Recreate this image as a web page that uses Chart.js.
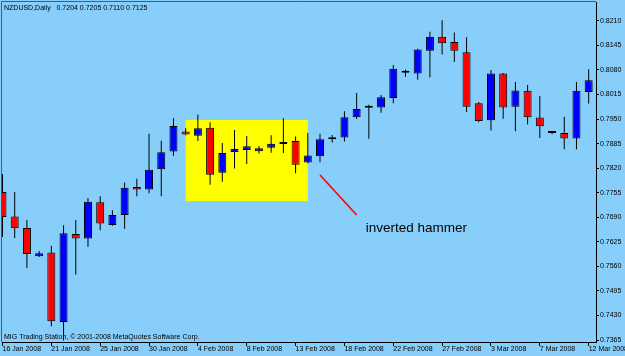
<!DOCTYPE html>
<html lang="en">
<head>
  <meta charset="UTF-8">
  <title>NZDUSD, Daily</title>
  <style>
    html, body {
      margin: 0;
      padding: 0;
      background: #87cefa;
    }

    #wrap {
      width: 625px;
      height: 356px;
      position: relative;
    }
  </style>
</head>
<body>
  <div id="wrap">
    <canvas id="chart"></canvas>
  </div>

  <script src="https://cdn.jsdelivr.net/npm/chart.js@4"></script>
  <script>
    // daily bars
    const opens = [0.7757, 0.7692, 0.7662, 0.7587, 0.7597, 0.7413, 0.7646, 0.7634, 0.7730, 0.7670,
      0.7696, 0.7770, 0.7764, 0.7817, 0.7864, 0.7917, 0.7906, 0.7927, 0.7808, 0.7863,
      0.7868, 0.7865, 0.7874, 0.7884, 0.7892, 0.7835, 0.7852, 0.7897, 0.7901, 0.7955,
      0.7980, 0.7981, 0.8006, 0.8073, 0.8071, 0.8131, 0.8168, 0.8154, 0.8127, 0.7992,
      0.7947, 0.8071, 0.7983, 0.8025, 0.7954, 0.7915, 0.7913, 0.7899, 0.8022];
    const highs = [0.7805, 0.7757, 0.7683, 0.7601, 0.7615, 0.7669, 0.7683, 0.7741, 0.7746, 0.7709,
      0.7782, 0.7792, 0.7911, 0.7893, 0.7952, 0.7926, 0.7962, 0.7942, 0.7887, 0.7921,
      0.7905, 0.7879, 0.7907, 0.7952, 0.7904, 0.7913, 0.7911, 0.7908, 0.7971, 0.8019,
      0.7988, 0.8014, 0.8093, 0.8081, 0.8136, 0.8181, 0.8212, 0.8179, 0.8167, 0.7995,
      0.8080, 0.8072, 0.8048, 0.8040, 0.8011, 0.7916, 0.7956, 0.8048, 0.8082];
    const lows = [0.7638, 0.7635, 0.7556, 0.7585, 0.7402, 0.7364, 0.7539, 0.7612, 0.7656, 0.7668,
      0.7660, 0.7746, 0.7754, 0.7746, 0.7853, 0.7907, 0.7892, 0.7776, 0.7784, 0.7819,
      0.7831, 0.7859, 0.7861, 0.7860, 0.7807, 0.7833, 0.7836, 0.7888, 0.7891, 0.7950,
      0.7898, 0.7967, 0.7992, 0.8062, 0.8054, 0.8060, 0.8121, 0.8101, 0.7969, 0.7942,
      0.7920, 0.7951, 0.7918, 0.7936, 0.7900, 0.7910, 0.7870, 0.7870, 0.7991];
    const closes = [0.7691, 0.7661, 0.7593, 0.7595, 0.7415, 0.7648, 0.7634, 0.7731, 0.7674, 0.7696,
      0.7768, 0.7764, 0.7816, 0.7862, 0.7932, 0.7909, 0.7926, 0.7803, 0.7860, 0.7871,
      0.7878, 0.7873, 0.7885, 0.7889, 0.7829, 0.7854, 0.7897, 0.7897, 0.7955, 0.7977,
      0.7980, 0.8008, 0.8083, 0.8073, 0.8134, 0.8168, 0.8151, 0.8131, 0.7983, 0.7945,
      0.8071, 0.7981, 0.8026, 0.7955, 0.7931, 0.7913, 0.7899, 0.8025, 0.8053];

    // one date label every 4 bars
    const dateLabels = ['16 Jan 2008', '21 Jan 2008', '25 Jan 2008', '30 Jan 2008', '4 Feb 2008',
      '8 Feb 2008', '13 Feb 2008', '18 Feb 2008', '22 Feb 2008', '27 Feb 2008',
      '3 Mar 2008', '7 Mar 2008', '12 Mar 2008'];
    const barsPerLabel = 4;
    const priceTicks = [0.7365, 0.7430, 0.7495, 0.7560, 0.7625, 0.7690, 0.7755,
      0.7820, 0.7885, 0.7950, 0.8015, 0.8080, 0.8145, 0.8210];

    // yellow zone + arrow + note (bar index, price)
    const zoneBars = [15, 25];
    const zonePrices = [0.7948, 0.7733];
    const arrowFrom = [26, 0.7802];
    const arrowTo = [29, 0.7696];
    const noteAt = [29.75, 0.7650];

    const smallFont = '7px "Liberation Sans", Arial, sans-serif';

    const idx = opens.map((_, i) => i);
    const isUp = idx.map(i => closes[i] >= opens[i]);

    const overlay = {
      id: 'overlay',
      beforeDatasetsDraw(chart) {
        const { ctx, scales: { x, y } } = chart;
        const l = x.getPixelForValue(zoneBars[0]);
        const r = x.getPixelForValue(zoneBars[1]);
        const t = y.getPixelForValue(zonePrices[0]);
        const b = y.getPixelForValue(zonePrices[1]);
        ctx.save();
        ctx.fillStyle = '#ffff00';
        ctx.fillRect(l, t, r - l, b - t);
        ctx.restore();
      },
      afterDatasetsDraw(chart) {
        const { ctx, scales: { x, y } } = chart;
        ctx.save();
        ctx.strokeStyle = '#ff0000';
        ctx.lineWidth = 1.6;
        ctx.beginPath();
        ctx.moveTo(x.getPixelForValue(arrowFrom[0]), y.getPixelForValue(arrowFrom[1]));
        ctx.lineTo(x.getPixelForValue(arrowTo[0]), y.getPixelForValue(arrowTo[1]));
        ctx.stroke();

        ctx.fillStyle = '#000';
        ctx.font = '13.5px "Liberation Sans", Arial, sans-serif';
        ctx.textBaseline = 'alphabetic';
        ctx.fillText('inverted hammer', x.getPixelForValue(noteAt[0]), y.getPixelForValue(noteAt[1]));
        ctx.restore();
      },
      afterDraw(chart) {
        const { ctx, chartArea: a } = chart;
        ctx.save();
        // top / left frame of the chart window
        ctx.strokeStyle = '#4c5c68';
        ctx.lineWidth = 1;
        ctx.beginPath();
        ctx.moveTo(a.left - 0.5, a.bottom);
        ctx.lineTo(a.left - 0.5, a.top - 0.5);
        ctx.lineTo(a.right, a.top - 0.5);
        ctx.stroke();

        ctx.fillStyle = '#000';
        ctx.font = smallFont;
        ctx.textBaseline = 'alphabetic';
        ctx.fillText('NZDUSD,Daily   0.7204 0.7205 0.7110 0.7125', a.left + 2, 10);
        ctx.fillText('MIG Trading Station, \u00a9 2001-2008 MetaQuotes Software Corp.', a.left + 2, 339);
        ctx.restore();
      }
    };

    new Chart(document.getElementById('chart'), {
      type: 'bar',
      data: {
        datasets: [{
          label: 'body',
          data: idx.map(i => ({ x: i, y: [opens[i], closes[i]] })),
          backgroundColor: idx.map(i => isUp[i] ? '#0000ff' : '#ff0000'),
          borderColor: '#000',
          borderWidth: 1,
          borderSkipped: false,
          barThickness: 8,
          minBarLength: 2,
          inflateAmount: 0,
          grouped: false,
          clip: 0,
          order: 0
        },
        {
          label: 'wick',
          data: idx.map(i => ({ x: i, y: [lows[i], highs[i]] })),
          backgroundColor: '#000',
          borderWidth: 0,
          barThickness: 1,
          inflateAmount: 0,
          grouped: false,
          clip: 0,
          order: 1
        }]
      },
      options: {
        responsive: true,
        maintainAspectRatio: false,
        animation: false,
        layout: {
          padding: { left: 2, top: 2, right: 0, bottom: 0 }
        },
        plugins: {
          legend: { display: false },
          tooltip: { enabled: false }
        },
        scales: {
          x: {
            type: 'linear',
            min: -0.04,
            max: 48.6,
            offset: false,
            afterBuildTicks: axis => {
              axis.ticks = dateLabels.map((_, k) => ({ value: k * barsPerLabel }));
            },
            afterFit: axis => {
              axis.height = 14;
              axis.paddingLeft = 0;
              axis.paddingRight = 0;
            },
            grid: {
              offset: false,
              drawOnChartArea: false,
              drawTicks: true,
              tickLength: 4,
              color: '#000'
            },
            border: { display: true, color: '#000' },
            ticks: {
              autoSkip: false,
              maxRotation: 0,
              align: 'start',
              padding: -1,
              color: '#000',
              font: { family: '"Liberation Sans", Arial, sans-serif', size: 7 },
              callback: v => dateLabels[v / barsPerLabel]
            }
          },
          y: {
            position: 'right',
            min: 0.7360,
            max: 0.8260,
            afterBuildTicks: axis => {
              axis.ticks = priceTicks.map(v => ({ value: v }));
            },
            afterFit: axis => {
              axis.width = 29;
              axis.paddingTop = 0;
              axis.paddingBottom = 0;
            },
            grid: {
              drawOnChartArea: false,
              drawTicks: true,
              tickLength: 3,
              color: '#000'
            },
            border: { display: true, color: '#000' },
            ticks: {
              autoSkip: false,
              padding: 1,
              color: '#000',
              font: { family: '"Liberation Sans", Arial, sans-serif', size: 7 },
              callback: v => v.toFixed(4)
            }
          }
        }
      },
      plugins: [overlay]
    });
  </script>
</body>
</html>
